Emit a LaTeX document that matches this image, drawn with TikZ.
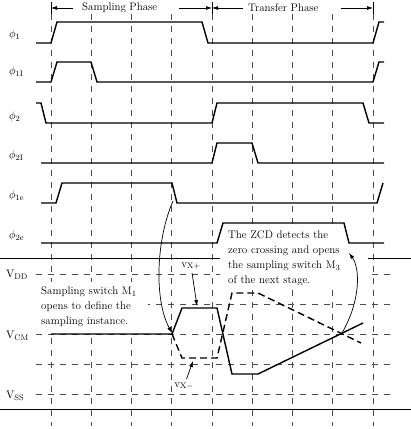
\documentclass[tikz,border=0pt]{standalone}
\usetikzlibrary{arrows.meta}
\begin{document}
\begin{tikzpicture}[
    x=1pt, y=-1pt,
    font=\fontsize{11}{15}\selectfont,
    grid/.style={black!70, line width=0.6pt, dash pattern=on 6pt off 6pt},
    wave/.style={line width=1.4pt, line join=miter},
    wavedash/.style={wave, dash pattern=on 7pt off 4pt},
    rule/.style={line width=0.8pt},
    arrow/.style={-{Latex[length=6pt,width=4pt]}, line width=0.7pt},
    sig/.style={anchor=west, inner sep=0pt},
    note/.style={fill=white, align=left, anchor=north west, inner xsep=7pt, inner ysep=4pt}
]
\useasboundingbox (0,0) rectangle (411,429);

% Time grid
\foreach \i in {0,...,8}
  \draw[grid] ({51+40.25*\i},14) -- ({51+40.25*\i},426);
\foreach \y in {274,304,334,364,394}
  \draw[grid] (36,\y) -- (394,\y);
\draw[rule] (0,258) -- (411,258);
\draw[rule] (0,409) -- (411,409);

% Notes
\node[note, text width=100pt, inner ysep=5pt] (m1) at (34,282)
  {Sampling switch M$_1$\\ opens to define the\\ sampling instance.};
\node[note, text width=132pt, inner xsep=8pt, inner ysep=3pt] (zcd) at (220,228)
  {The ZCD detects the\\ zero crossing and opens\\ the sampling switch M$_3$\\ of the next stage.};

% Phase markers
\draw[rule] (51,2) -- (51,14);
\draw[rule] (212,2) -- (212,14);
\draw[rule] (373,2) -- (373,14);
\coordinate (b0) at (51,8);
\coordinate (b1) at (212,8);
\coordinate (b2) at (373,8);
\node[sig] (samp) at (82,8) {Sampling Phase};
\node[sig] (trans) at (248,8) {Transfer Phase};
\draw[arrow, shorten <=9pt] (samp.west) -- (b0);
\draw[arrow, shorten <=22pt] (samp.east) -- (b1);
\draw[arrow, shorten <=5pt] (trans.west) -- (b1);
\draw[arrow, shorten <=22pt] (trans.east) -- (b2);

% Clock phases
\node[sig] (p1) at (9,35) {$\phi_1$};
\node[sig] (p1i) at (9,72) {$\phi_{1\mathrm{I}}$};
\node[sig] (p2) at (9,117) {$\phi_2$};
\node[sig] (p2i) at (9,156) {$\phi_{2\mathrm{I}}$};
\node[sig] (p1e) at (9,196) {$\phi_{1\mathrm{e}}$};
\node[sig] (p2e) at (9,236) {$\phi_{2\mathrm{e}}$};

\draw[wave] (36,43) -- (51,43) -- (57,22) -- (202,22) -- (208,43) -- (373,43) -- (379,22) -- (384,22);
\draw[wave] (36,82) -- (51,82) -- (57,62) -- (91,62) -- (97,82) -- (373,82) -- (379,62) -- (384,62);
\draw[wave] (36,103) -- (41,103) -- (46,123) -- (212,123) -- (217,103) -- (363,103) -- (369,123) -- (384,123);
\draw[wave] (41,163) -- (212,163) -- (217,143) -- (252,143) -- (258,163) -- (384,163);
\draw[wave] (41,203) -- (56,203) -- (62,183) -- (172,183) -- (177,203) -- (377,203) -- (383,183);
\draw[wave] (41,243) -- (217,243) -- (223,223) -- (344,223) -- (349,243) -- (384,243);

% Output levels
\node[sig] (vdd) at (6,275) {$\mathrm{V_{DD}}$};
\node[sig] (vcm) at (6,336) {$\mathrm{V_{CM}}$};
\node[sig] (vss) at (6,396) {$\mathrm{V_{SS}}$};

% Differential outputs
\draw[wave] (51,334) -- (172,334) -- (182,308) -- (217,308) -- (232,374) -- (258,374) -- (363,323);
\draw[wavedash] (172,334) -- (182,358) -- (217,358) -- (232,293) -- (258,293) -- (361,343);

\node (vxp) at (191,266) {$\mathrm{v_{X+}}$};
\node (vxm) at (184,386) {$\mathrm{v_{X-}}$};
\coordinate (xp) at (197,306);
\coordinate (xm) at (193,361);
\draw[arrow] (vxp) -- (xp);
\draw[arrow] (vxm) -- (xm);

% Switching instants
\coordinate (fall) at (173,201);
\coordinate (sw1) at (172,333);
\draw[arrow] (fall) .. controls (156,240) and (154,300) .. (sw1);
\coordinate (cross) at (342,333);
\coordinate (sw3) at (349,253);
\draw[arrow] (cross) .. controls (361,300) and (360,268) .. (sw3);
\end{tikzpicture}
\end{document}
